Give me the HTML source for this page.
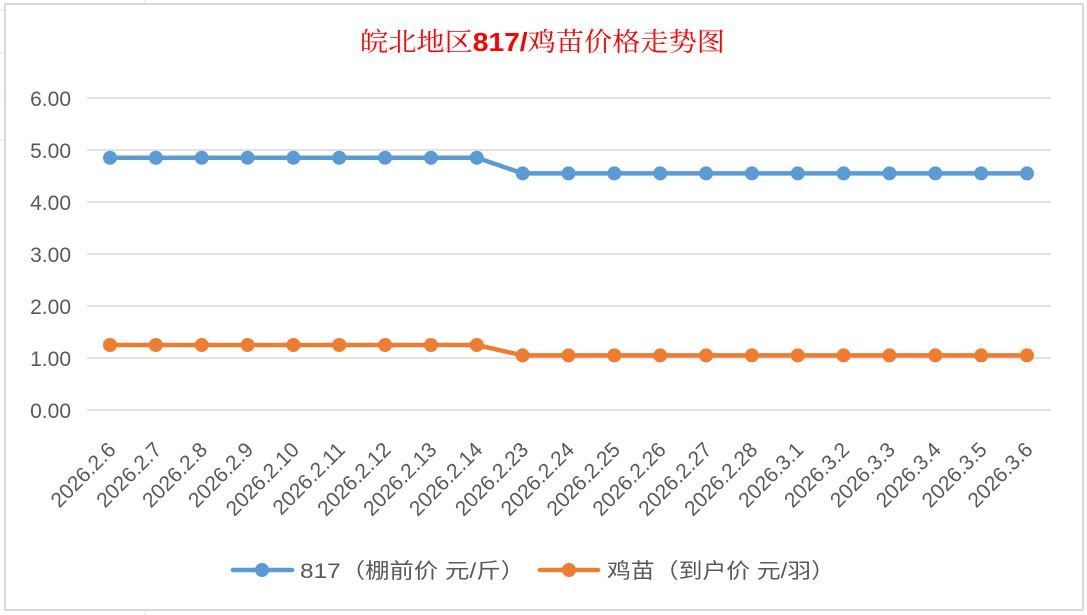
<!DOCTYPE html>
<html><head><meta charset="utf-8"><style>
body{margin:0;background:#fff;}
svg{display:block;font-family:"Liberation Sans","Noto Sans CJK SC",sans-serif;}
</style></head><body>
<svg width="1087" height="615" viewBox="0 0 1087 615">
<g stroke="#e6e6e6" stroke-width="1">
<line x1="0" y1="10" x2="5" y2="10"/><line x1="0" y1="53" x2="5" y2="53"/><line x1="0" y1="96" x2="5" y2="96"/><line x1="0" y1="140" x2="5" y2="140"/>
<line x1="145" y1="0" x2="145" y2="4"/><line x1="145" y1="610" x2="145" y2="615"/>
</g>
<rect x="5" y="4" width="1078" height="606" fill="#fff" stroke="#d9d9d9" stroke-width="2"/>
<text x="360" y="51" textLength="365" lengthAdjust="spacingAndGlyphs" fill="#ff0000" font-size="26" font-family="'Liberation Serif','Noto Serif CJK SC',serif">皖北地区<tspan font-weight="bold" font-family="'Liberation Sans',sans-serif">817/</tspan>鸡苗价格走势图</text>
<g stroke="#d9d9d9" stroke-width="1.5">
<line x1="87" y1="98" x2="1050" y2="98"/><line x1="87" y1="150" x2="1050" y2="150"/><line x1="87" y1="202" x2="1050" y2="202"/><line x1="87" y1="254" x2="1050" y2="254"/><line x1="87" y1="306" x2="1050" y2="306"/><line x1="87" y1="358" x2="1050" y2="358"/><line x1="87" y1="410" x2="1050" y2="410"/>
</g>
<g fill="#595959" font-size="21" text-anchor="end">
<text x="71" y="106">6.00</text><text x="71" y="158">5.00</text><text x="71" y="210">4.00</text><text x="71" y="262">3.00</text><text x="71" y="314">2.00</text><text x="71" y="366">1.00</text><text x="71" y="418">0.00</text>
</g>
<g id="labels" fill="#595959" font-size="21" text-anchor="end"></g>
<polyline fill="none" stroke="#5b9bd5" stroke-width="4.5" stroke-linejoin="round" id="l1"/>
<polyline fill="none" stroke="#ed7d31" stroke-width="4.5" stroke-linejoin="round" id="l2"/>
<g id="d1" fill="#5b9bd5"></g><g id="d2" fill="#ed7d31"></g>
<line x1="233" y1="570" x2="292" y2="570" stroke="#5b9bd5" stroke-width="4.5" stroke-linecap="round"/>
<circle cx="262" cy="570" r="7" fill="#5b9bd5"/>
<text x="300" y="578" textLength="225" lengthAdjust="spacingAndGlyphs" fill="#595959" font-size="21">817（棚前价 元/斤）</text>
<line x1="540" y1="570" x2="598" y2="570" stroke="#ed7d31" stroke-width="4.5" stroke-linecap="round"/>
<circle cx="569" cy="570" r="7" fill="#ed7d31"/>
<text x="607" y="578" textLength="228" lengthAdjust="spacingAndGlyphs" fill="#595959" font-size="21">鸡苗（到户价 元/羽）</text>
</svg>
<script>
var labs=["2026.2.6","2026.2.7","2026.2.8","2026.2.9","2026.2.10","2026.2.11","2026.2.12","2026.2.13","2026.2.14","2026.2.23","2026.2.24","2026.2.25","2026.2.26","2026.2.27","2026.2.28","2026.3.1","2026.3.2","2026.3.3","2026.3.4","2026.3.5","2026.3.6"];
var ns="http://www.w3.org/2000/svg",p1=[],p2=[];
function y(v){return 410-52*v;}
labs.forEach(function(l,i){
 var x=110+i*45.85;
 var t=document.createElementNS(ns,"text");
 t.setAttribute("transform","translate("+(x+7)+",451) rotate(-45)");
 t.textContent=l;document.getElementById("labels").appendChild(t);
 var a=i<9?4.85:4.55,b=i<9?1.25:1.05;
 p1.push(x+","+y(a));p2.push(x+","+y(b));
 [[a,"d1"],[b,"d2"]].forEach(function(q){var c=document.createElementNS(ns,"circle");c.setAttribute("cx",x);c.setAttribute("cy",y(q[0]));c.setAttribute("r",7);document.getElementById(q[1]).appendChild(c);});
});
document.getElementById("l1").setAttribute("points",p1.join(" "));
document.getElementById("l2").setAttribute("points",p2.join(" "));
</script>
</body></html>
